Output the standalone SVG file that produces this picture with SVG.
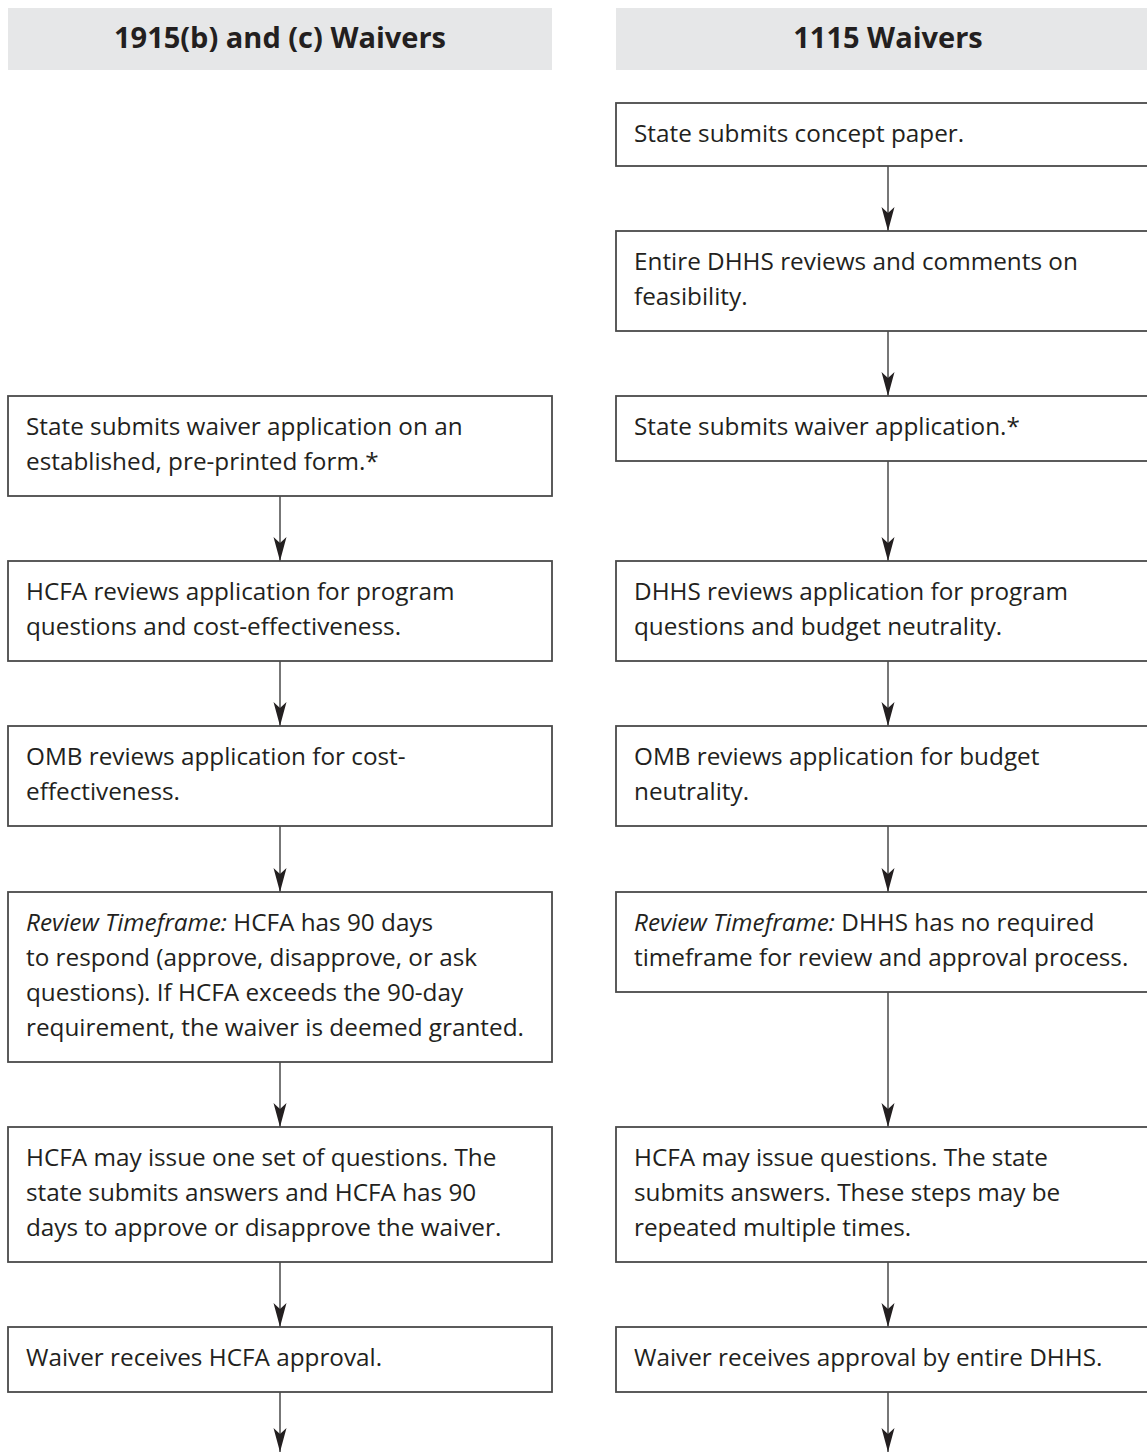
<svg xmlns="http://www.w3.org/2000/svg" width="1147" height="1454" viewBox="0 0 1147 1454">
<style>
.hdr{fill:#e6e7e8;}
.ht{font-family:"Open Sans","Liberation Sans",sans-serif;font-weight:700;font-size:29px;fill:#231f20;text-anchor:middle;}
.box{fill:#ffffff;stroke:#4a4a4a;stroke-width:1.8;}
.t{font-family:"Open Sans","Liberation Sans",sans-serif;font-size:24.3px;fill:#231f20;}
.i{font-style:italic;}
.c{stroke:#555555;stroke-width:1.6;fill:none;marker-end:url(#ah);}
</style>
<defs>
<marker id="ah" markerUnits="userSpaceOnUse" viewBox="0 -7 24 14" refX="24" refY="0" markerWidth="24" markerHeight="14" orient="auto">
<path d="M0,-6.5 L24,0 L0,6.5 L6,0 Z" fill="#231f20"/>
</marker>
</defs>
<rect width="1147" height="1454" fill="#ffffff"/>

<g id="header-left">
<rect class="hdr" x="8" y="8" width="544" height="62"/>
<text class="ht" x="280" y="48">1915(b) and (c) Waivers</text>
</g>
<g id="header-right">
<rect class="hdr" x="616" y="8" width="531" height="62"/>
<text class="ht" x="888" y="48">1115 Waivers</text>
</g>

<g id="connectors">
<line class="c" x1="280" y1="496" x2="280" y2="561"/>
<line class="c" x1="280" y1="661" x2="280" y2="726"/>
<line class="c" x1="280" y1="826" x2="280" y2="892"/>
<line class="c" x1="280" y1="1062" x2="280" y2="1127"/>
<line class="c" x1="280" y1="1262" x2="280" y2="1327"/>
<line class="c" x1="280" y1="1392" x2="280" y2="1452"/>
<line class="c" x1="888" y1="166" x2="888" y2="231"/>
<line class="c" x1="888" y1="331" x2="888" y2="396"/>
<line class="c" x1="888" y1="461" x2="888" y2="561"/>
<line class="c" x1="888" y1="661" x2="888" y2="726"/>
<line class="c" x1="888" y1="826" x2="888" y2="892"/>
<line class="c" x1="888" y1="992" x2="888" y2="1127"/>
<line class="c" x1="888" y1="1262" x2="888" y2="1327"/>
<line class="c" x1="888" y1="1392" x2="888" y2="1452"/>
</g>

<g id="L1">
<rect class="box" x="8" y="396" width="544" height="100"/>
<text class="t" x="26" y="435">State submits waiver application on an</text>
<text class="t" x="26" y="470">established, pre-printed form.*</text>
</g>
<g id="L2">
<rect class="box" x="8" y="561" width="544" height="100"/>
<text class="t" x="26" y="600">HCFA reviews application for program</text>
<text class="t" x="26" y="635">questions and cost-effectiveness.</text>
</g>
<g id="L3">
<rect class="box" x="8" y="726" width="544" height="100"/>
<text class="t" x="26" y="765">OMB reviews application for cost-</text>
<text class="t" x="26" y="800">effectiveness.</text>
</g>
<g id="L4">
<rect class="box" x="8" y="892" width="544" height="170"/>
<text class="t" x="26" y="931"><tspan class="i">Review Timeframe:</tspan>  HCFA has 90 days</text>
<text class="t" x="26" y="966">to respond (approve, disapprove, or ask</text>
<text class="t" x="26" y="1001">questions). If HCFA exceeds the 90-day</text>
<text class="t" x="26" y="1036">requirement, the waiver is deemed granted.</text>
</g>
<g id="L5">
<rect class="box" x="8" y="1127" width="544" height="135"/>
<text class="t" x="26" y="1166">HCFA may issue one set of questions. The</text>
<text class="t" x="26" y="1201">state submits answers and HCFA has 90</text>
<text class="t" x="26" y="1236">days to approve or disapprove the waiver.</text>
</g>
<g id="L6">
<rect class="box" x="8" y="1327" width="544" height="65"/>
<text class="t" x="26" y="1366">Waiver receives HCFA approval.</text>
</g>

<g id="R1">
<rect class="box" x="616" y="103" width="544" height="63"/>
<text class="t" x="634" y="142">State submits concept paper.</text>
</g>
<g id="R2">
<rect class="box" x="616" y="231" width="544" height="100"/>
<text class="t" x="634" y="270">Entire DHHS reviews and comments on</text>
<text class="t" x="634" y="305">feasibility.</text>
</g>
<g id="R3">
<rect class="box" x="616" y="396" width="544" height="65"/>
<text class="t" x="634" y="435">State submits waiver application.*</text>
</g>
<g id="R4">
<rect class="box" x="616" y="561" width="544" height="100"/>
<text class="t" x="634" y="600">DHHS reviews application for program</text>
<text class="t" x="634" y="635">questions and budget neutrality.</text>
</g>
<g id="R5">
<rect class="box" x="616" y="726" width="544" height="100"/>
<text class="t" x="634" y="765">OMB reviews application for budget</text>
<text class="t" x="634" y="800">neutrality.</text>
</g>
<g id="R6">
<rect class="box" x="616" y="892" width="544" height="100"/>
<text class="t" x="634" y="931"><tspan class="i">Review Timeframe:</tspan>  DHHS has no required</text>
<text class="t" x="634" y="966">timeframe for review and approval process.</text>
</g>
<g id="R7">
<rect class="box" x="616" y="1127" width="544" height="135"/>
<text class="t" x="634" y="1166">HCFA may issue questions. The state</text>
<text class="t" x="634" y="1201">submits answers. These steps may be</text>
<text class="t" x="634" y="1236">repeated multiple times.</text>
</g>
<g id="R8">
<rect class="box" x="616" y="1327" width="544" height="65"/>
<text class="t" x="634" y="1366">Waiver receives approval by entire DHHS.</text>
</g>
</svg>
